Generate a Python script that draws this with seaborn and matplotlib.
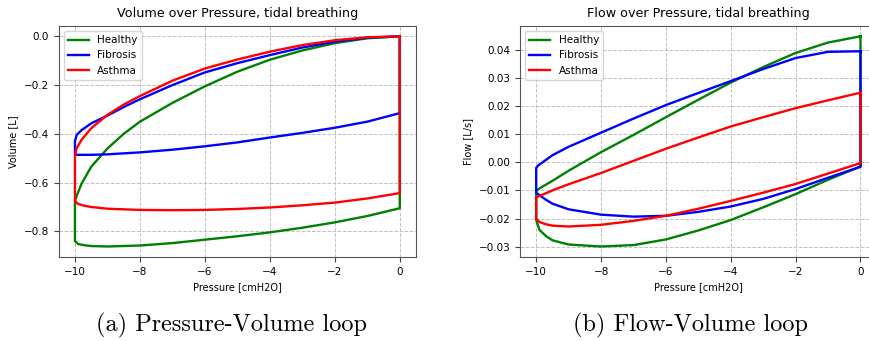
import numpy as np
import pandas as pd
import matplotlib
matplotlib.use("Agg")
import matplotlib.pyplot as plt
import seaborn as sns

# pressure samples along the two branches of one breathing loop
# upper branch runs 0 -> -10, lower branch runs -10 -> 0
p_upper = [0, -1, -2, -3, -4, -5, -6, -7, -8, -8.5, -9, -9.5, -9.8, -9.95, -10]
p_lower = [-10, -9.9, -9.7, -9.5, -9, -8, -7, -6, -5, -4, -3, -2, -1, 0]

conditions = ["Healthy", "Fibrosis", "Asthma"]
colors = ["green", "blue", "red"]

# Volume [L] read from the pressure-volume loop
vol_upper = {
    "Healthy": [0, -0.008, -0.028, -0.058, -0.096, -0.145, -0.205, -0.273, -0.350,
                -0.400, -0.460, -0.535, -0.605, -0.655, -0.675],
    "Fibrosis": [0, -0.006, -0.022, -0.046, -0.077, -0.110, -0.148, -0.200, -0.258,
                 -0.290, -0.325, -0.357, -0.385, -0.405, -0.430],
    "Asthma": [0, -0.004, -0.016, -0.036, -0.063, -0.095, -0.132, -0.182, -0.245,
               -0.280, -0.322, -0.377, -0.425, -0.460, -0.490],
}
vol_lower = {
    "Healthy": [-0.840, -0.852, -0.857, -0.860, -0.862, -0.858, -0.848, -0.834,
                -0.820, -0.804, -0.785, -0.763, -0.737, -0.705],
    "Fibrosis": [-0.485, -0.486, -0.486, -0.486, -0.484, -0.476, -0.465, -0.451,
                 -0.435, -0.415, -0.396, -0.375, -0.350, -0.315],
    "Asthma": [-0.675, -0.688, -0.695, -0.700, -0.707, -0.712, -0.713, -0.712,
               -0.708, -0.702, -0.693, -0.682, -0.665, -0.643],
}

# Flow [L/s] read from the flow-pressure loop
flow_upper = {
    "Healthy": [0.0447, 0.0425, 0.0388, 0.0338, 0.0283, 0.0222, 0.0160, 0.0097, 0.0036,
                0.0003, -0.0030, -0.0066, -0.0086, -0.0097, -0.0102],
    "Fibrosis": [0.0394, 0.0392, 0.0370, 0.0331, 0.0288, 0.0246, 0.0203, 0.0155, 0.0105,
                 0.0080, 0.0055, 0.0025, 0.0000, -0.0012, -0.0020],
    "Asthma": [0.0247, 0.0220, 0.0192, 0.0160, 0.0127, 0.0088, 0.0048, 0.0005, -0.0038,
               -0.0058, -0.0078, -0.0100, -0.0115, -0.0122, -0.0125],
}
flow_lower = {
    "Healthy": [-0.0205, -0.0240, -0.0262, -0.0277, -0.0292, -0.0299, -0.0294, -0.0274,
                -0.0242, -0.0205, -0.0160, -0.0113, -0.0062, -0.0015],
    "Fibrosis": [-0.0108, -0.0117, -0.0133, -0.0147, -0.0167, -0.0186, -0.0193, -0.0190,
                 -0.0176, -0.0157, -0.0130, -0.0095, -0.0055, -0.0016],
    "Asthma": [-0.0200, -0.0212, -0.0220, -0.0225, -0.0228, -0.0222, -0.0208, -0.0190,
               -0.0165, -0.0137, -0.0108, -0.0077, -0.0040, -0.0003],
}


def loop_frame(upper, lower):
    # closed loop: upper branch, lower branch, back to the start at 0 cmH2O
    p = list(p_upper) + list(p_lower) + [p_upper[0]]
    v = list(upper) + list(lower) + [upper[0]]
    return pd.DataFrame({"pressure": p, "value": v})


def draw_loops(ax, upper, lower, title, ylabel):
    for name, col in zip(conditions, colors):
        df = loop_frame(upper[name], lower[name])
        sns.lineplot(data=df, x="pressure", y="value", sort=False, estimator=None,
                     color=col, linewidth=1.7, label=name, ax=ax)
    ax.set_title(title, fontsize=9.2)
    ax.set_xlabel("Pressure [cmH2O]", fontsize=7)
    ax.set_ylabel(ylabel, fontsize=7)
    ax.tick_params(labelsize=7.5, color="#444444")
    ax.grid(True, linestyle="--", color="#c0c0c0", linewidth=0.7)
    ax.set_axisbelow(True)
    for s in ax.spines.values():
        s.set_color("#555555")
    ax.legend(loc="upper left", fontsize=7.5)


fig = plt.figure(figsize=(8.7, 3.41), dpi=100)
ax1 = fig.add_axes([0.0675, 0.2463, 0.4107, 0.678])
ax2 = fig.add_axes([0.5977, 0.2463, 0.41, 0.678])

draw_loops(ax1, vol_upper, vol_lower, "Volume over Pressure, tidal breathing", "Volume [L]")
draw_loops(ax2, flow_upper, flow_lower, "Flow over Pressure, tidal breathing", "Flow [L/s]")
ax1.set_xticks([-10, -8, -6, -4, -2, 0])
ax2.set_xticks([-10, -8, -6, -4, -2, 0])

fig.text(0.2655, 0.045, "(a) Pressure-Volume loop", family="cmr10", fontsize=17.5,
         ha="center", va="center")
fig.text(0.794, 0.045, "(b) Flow-Volume loop", family="cmr10", fontsize=17.5,
         ha="center", va="center")

fig.savefig("out.png", dpi=100)
